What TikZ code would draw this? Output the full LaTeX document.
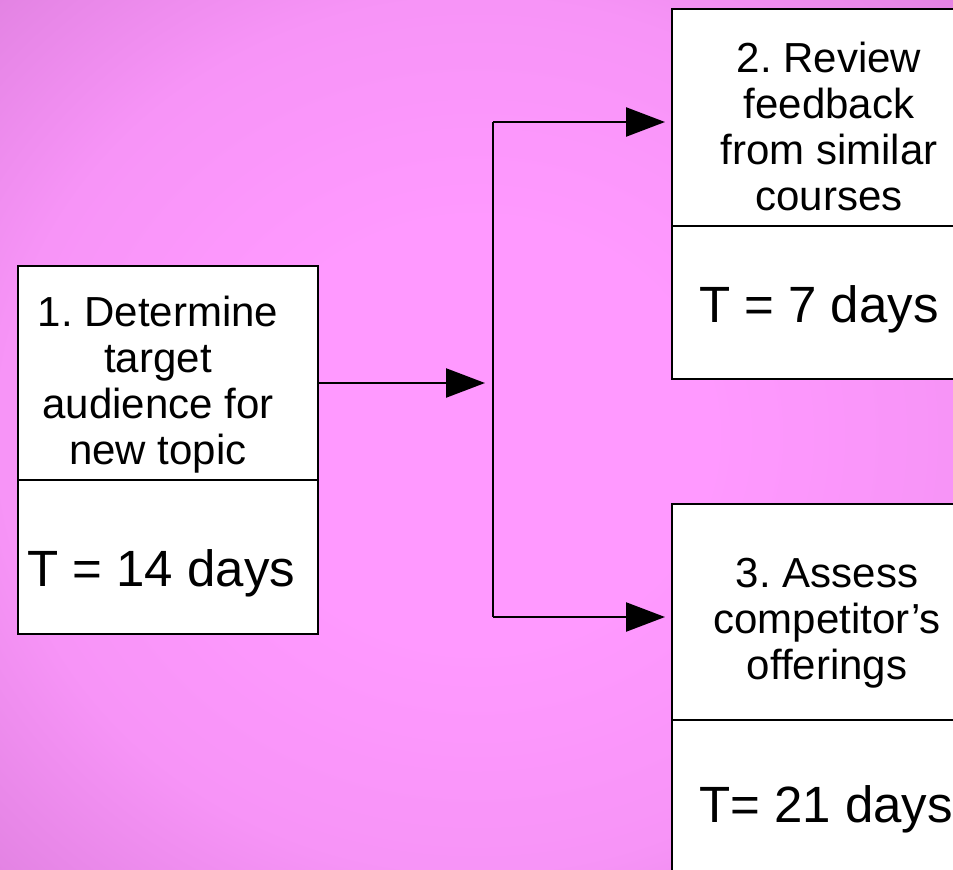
\documentclass[tikz,border=0pt]{standalone}
\usepackage{fontspec}
\setmainfont{Liberation Sans}
\usetikzlibrary{arrows.meta}
\frenchspacing
\definecolor{bglight}{RGB}{255,153,255}
\definecolor{bgmid}{RGB}{247,148,247}
\definecolor{bgdark}{RGB}{226,130,226}
\pgfdeclareradialshading{bgglow}{\pgfpoint{0bp}{0bp}}{color(0bp)=(bglight); color(12bp)=(bglight); color(25bp)=(bgmid); color(36bp)=(bgdark); color(50bp)=(bgdark)}
\tikzstyle{task} = [rectangle, draw=black, line width=2.4pt, fill=white, anchor=north west, inner sep=0pt]
\tikzstyle{title} = [align=center, font=\fontsize{42}{46}\selectfont, inner sep=0pt, anchor=base]
\tikzstyle{duration} = [font=\fontsize{51}{56}\selectfont, inner sep=0pt, anchor=base west]
\tikzstyle{divider} = [line width=2.4pt]
\tikzstyle{arrow} = [line width=2.4pt, -{Triangle[length=39pt, width=29pt]}]

\begin{document}
\begin{tikzpicture}[x=1pt, y=-1pt]
      \useasboundingbox (0,0) rectangle (953,870);
      \shade [shading=bgglow] (0,0) rectangle (953,870);
      \clip (0,0) rectangle (953,870);

      \node (task1) [task, minimum width=300pt, minimum height=368pt] at (17,265) {};
      \node (task2) [task, minimum width=314pt, minimum height=370pt] at (671,8) {};
      \node (task3) [task, minimum width=314pt, minimum height=400pt] at (671,503) {};

      \draw [divider] (task1.west |- 0,480) -- (task1.east |- 0,480);
      \draw [divider] (task2.west |- 0,226) -- (task2.east |- 0,226);
      \draw [divider] (task3.west |- 0,720) -- (task3.east |- 0,720);

      % base anchor sits on the last line
      \node (name1) [title] at (158,464) {1. Determine\\target\\audience for\\new topic};
      \node (name2) [title] at (829,210) {2. Review\\feedback\\from similar\\courses};
      \node (name3) [title] at (827,679) {3. Assess\\competitor’s\\offerings};

      \node (time1) [duration] at (27,586) {T = 14 days};
      \node (time2) [duration] at (699,322) {T = 7 days};
      \node (time3) [duration] at (699,822) {T= 21 days};

      \coordinate (fork) at (493,383);
      \coordinate (forktop) at (493,122);
      \coordinate (forkbot) at (493,617);
      \draw [divider] (forktop) -- (forkbot);
      \draw [arrow, shorten >=8pt] (task1.east |- fork) -- (fork);
      \draw [arrow, shorten >=6pt] (forktop) -- (task2.west |- forktop);
      \draw [arrow, shorten >=6pt] (forkbot) -- (task3.west |- forkbot);
\end{tikzpicture}
\end{document}
